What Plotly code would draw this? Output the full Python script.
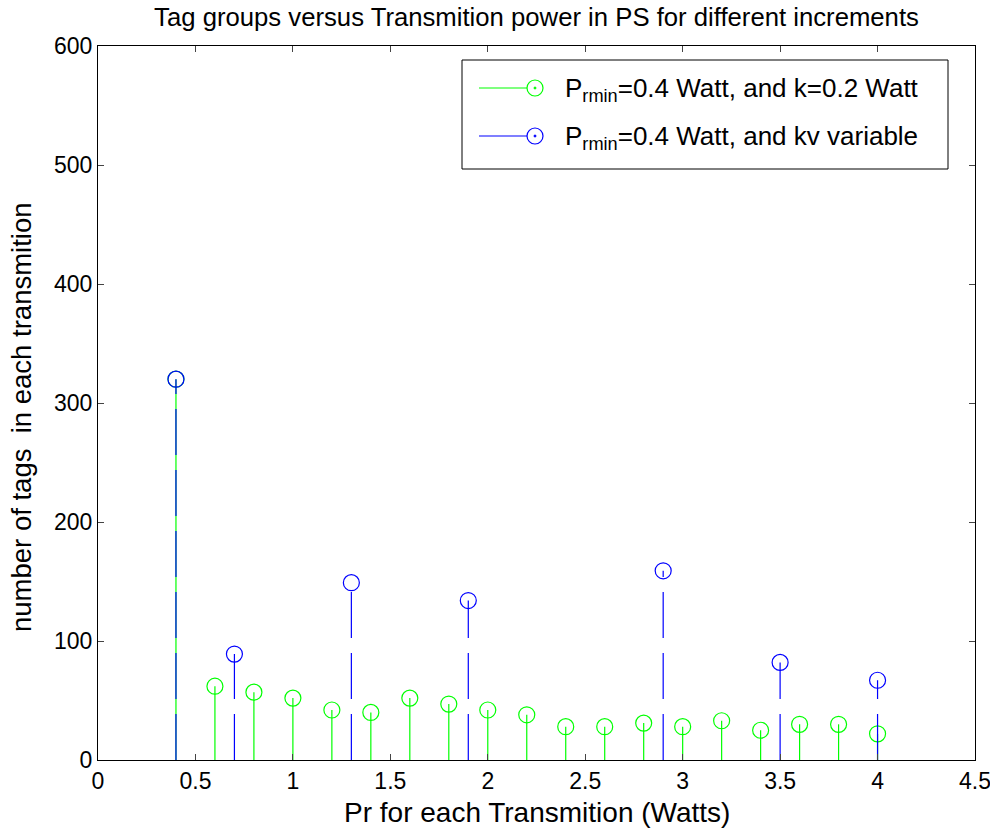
import plotly.graph_objects as go

# Data
green_x = [0.4, 0.6, 0.8, 1.0, 1.2, 1.4, 1.6, 1.8, 2.0, 2.2, 2.4, 2.6, 2.8, 3.0, 3.2, 3.4, 3.6, 3.8, 4.0]
green_y = [320, 62, 57, 52, 42, 40, 52, 47, 42, 38, 28, 28, 31, 28, 33, 25, 30, 30, 22]
blue_x = [0.4, 0.7, 1.3, 1.9, 2.9, 3.5, 4.0]
blue_y = [320, 89, 149, 134, 159, 82, 67]
green_name = "P<sub>rmin</sub>=0.4 Watt, and k=0.2 Watt"
blue_name = "P<sub>rmin</sub>=0.4 Watt, and kv variable"
GREEN = "#00ff00"
BLUE = "#0000ff"
FONT = "Liberation Sans, Arial, sans-serif"


def stems(xs, ys):
    sx, sy = [], []
    for x, y in zip(xs, ys):
        sx += [x, x, None]
        sy += [0, y, None]
    return sx, sy


fig = go.Figure()
gx, gy = stems(green_x, green_y)
bx, by = stems(blue_x, blue_y)
fig.add_trace(go.Scatter(x=gx, y=gy, mode="lines", line=dict(color=GREEN, width=1.2),
                         showlegend=False, hoverinfo="skip"))
fig.add_trace(go.Scatter(x=green_x, y=green_y, mode="markers", name=green_name,
                         marker=dict(symbol="circle-open", size=16, color=GREEN, line=dict(width=1.2)),
                         showlegend=False))
fig.add_trace(go.Scatter(x=bx, y=by, mode="lines", line=dict(color=BLUE, width=1.2, dash="46px,15px"),
                         showlegend=False, hoverinfo="skip"))
fig.add_trace(go.Scatter(x=blue_x, y=blue_y, mode="markers", name=blue_name,
                         marker=dict(symbol="circle-open", size=16, color=BLUE, line=dict(width=1.2)),
                         showlegend=False))

# Manual MATLAB-like legend in paper coordinates
L, T, W, H = 98, 46, 877, 714
def px(x):
    return (x - L) / W
def py(y):
    return (T + H - y) / H

shapes = [dict(type="rect", xref="paper", yref="paper", x0=px(462), x1=px(948), y0=py(60), y1=py(169),
               line=dict(color="black", width=1), fillcolor="white", layer="above")]
annotations = []
for row_y, col, name in [(88, GREEN, green_name), (136, BLUE, blue_name)]:
    shapes.append(dict(type="line", xref="paper", yref="paper", x0=px(479), x1=px(535), y0=py(row_y), y1=py(row_y),
                       line=dict(color=col, width=1.2), layer="above"))
    shapes.append(dict(type="circle", xref="paper", yref="paper", x0=px(527), x1=px(543), y0=py(row_y - 8), y1=py(row_y + 8),
                       line=dict(color=col, width=1.2), fillcolor="white", layer="above"))
    shapes.append(dict(type="circle", xref="paper", yref="paper", x0=px(534), x1=px(536), y0=py(row_y - 1), y1=py(row_y + 1),
                       line=dict(color=col, width=1), fillcolor=col, layer="above"))
    annotations.append(dict(xref="paper", yref="paper", x=px(563), y=py(row_y + 1), text=name, showarrow=False,
                            xanchor="left", yanchor="middle", font=dict(family=FONT, size=26, color="black")))

# Axis titles as annotations for precise placement
annotations.append(dict(xref="paper", yref="paper", x=0.5, y=py(812), text="Pr for each Transmition (Watts)",
                        showarrow=False, xanchor="center", yanchor="middle",
                        font=dict(family=FONT, size=28, color="black")))
annotations.append(dict(xref="paper", yref="paper", x=px(22), y=py(417), text="number of tags  in each transmition",
                        showarrow=False, xanchor="center", yanchor="middle", textangle=-90,
                        font=dict(family=FONT, size=27.5, color="black")))

fig.update_layout(
    width=990, height=832,
    margin=dict(l=L, r=990 - L - W, t=T, b=832 - T - H, autoexpand=False),
    paper_bgcolor="white", plot_bgcolor="white",
    title=dict(text="Tag groups versus Transmition power in PS for different increments",
               x=(L + W / 2) / 990, xanchor="center", y=1 - 17 / 832, yanchor="middle",
               font=dict(family=FONT, size=25.7, color="black")),
    font=dict(family=FONT, size=23, color="black"),
    shapes=shapes, annotations=annotations,
    showlegend=False,
)
fig.update_xaxes(range=[0, 4.5], tickmode="linear", tick0=0, dtick=0.5, ticks="inside", ticklen=6,
                 showline=True, linecolor="black", linewidth=1, mirror="ticks", showgrid=False, zeroline=False,
                 tickfont=dict(size=23), ticklabeloverflow="allow", automargin=False)
fig.update_yaxes(range=[0, 600], tickmode="linear", tick0=0, dtick=100, ticks="inside", ticklen=6,
                 showline=True, linecolor="black", linewidth=1, mirror="ticks", showgrid=False, zeroline=False,
                 tickfont=dict(size=23), automargin=False)
fig.write_html("out.html")
